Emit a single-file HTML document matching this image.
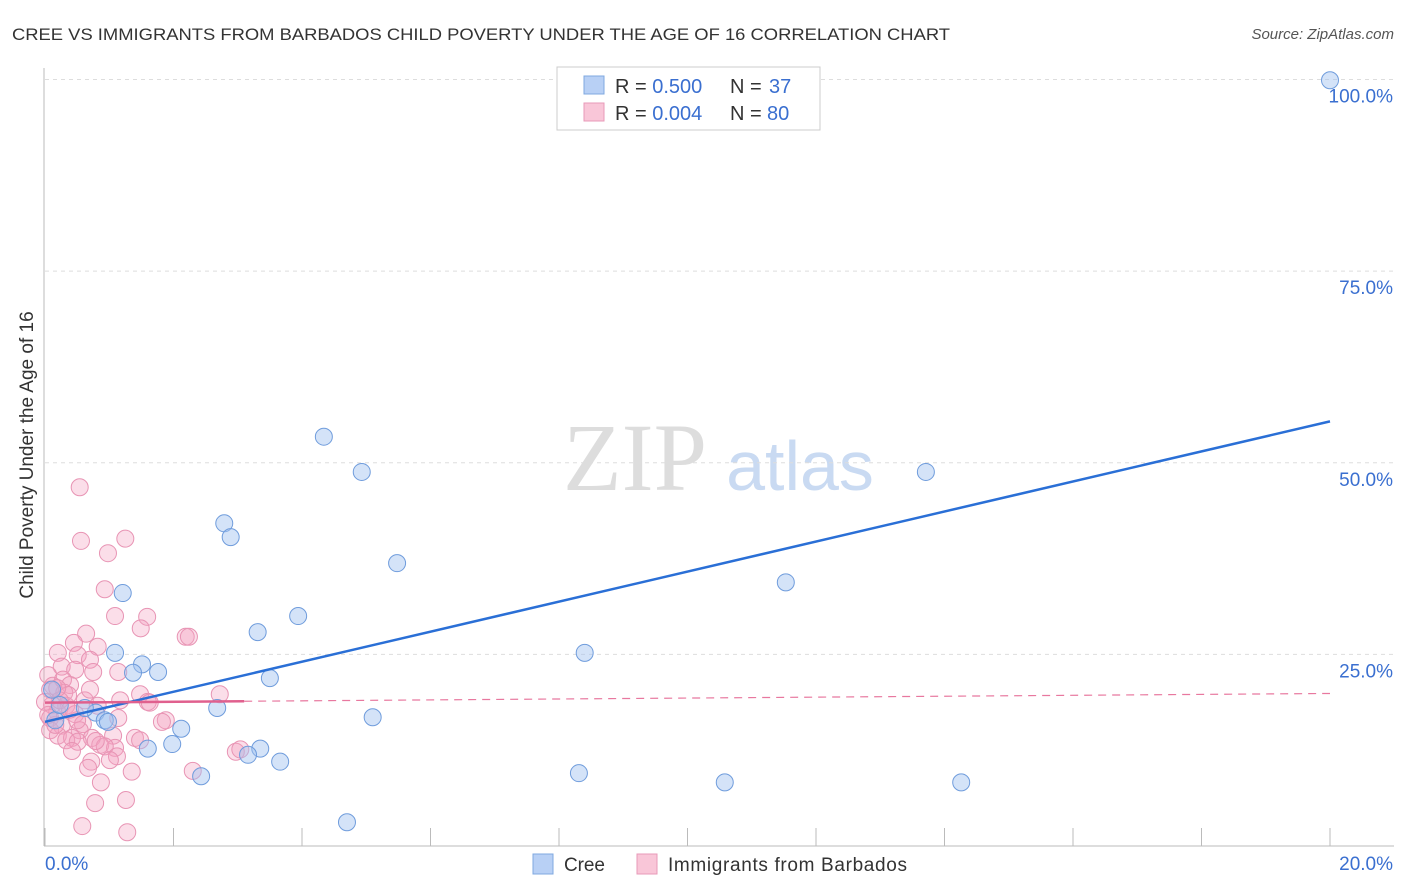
<!DOCTYPE html>
<html><head><meta charset="utf-8"><style>
body{margin:0;background:#fff;font-family:"Liberation Sans",sans-serif;}
svg{display:block}
</style></head><body>
<svg id="chart" width="1406" height="892">
<text x="12" y="40" font-size="17" fill="#333" textLength="938" lengthAdjust="spacingAndGlyphs">CREE VS IMMIGRANTS FROM BARBADOS CHILD POVERTY UNDER THE AGE OF 16 CORRELATION CHART</text>
<text x="1394" y="39" font-size="15" fill="#555" font-style="italic" text-anchor="end">Source: ZipAtlas.com</text>
<text transform="translate(33,455) rotate(-90)" font-size="19" fill="#333" text-anchor="middle">Child Poverty Under the Age of 16</text>
<g>
<text x="635" y="490" font-size="96" font-family="Liberation Serif,serif" fill="#ddd" text-anchor="middle">ZIP</text>
<text x="800" y="490" font-size="70" fill="#c9daf2" text-anchor="middle">atlas</text>
</g>
<g id="grid"></g>
<g id="pts"></g>
<g id="lines"></g>
<g>
<rect x="557" y="67" width="263" height="63" fill="#fff" stroke="#ccc"/>
<rect x="584" y="76" width="20" height="18" fill="#b8d0f5" stroke="#7fa8e0"/>
<rect x="584" y="103" width="20" height="18" fill="#f9c6d8" stroke="#e89ab8"/>
<text x="615" y="93" font-size="20" fill="#333">R = <tspan fill="#3a6fd0">0.500</tspan><tspan x="730">N = </tspan><tspan fill="#3a6fd0" x="769">37</tspan></text>
<text x="615" y="120" font-size="20" fill="#333">R = <tspan fill="#3a6fd0">0.004</tspan><tspan x="730">N = </tspan><tspan fill="#3a6fd0" x="767">80</tspan></text>
</g>
<g>
<rect x="533" y="854" width="20" height="20" fill="#b8d0f5" stroke="#7fa8e0"/>
<text x="564" y="871" font-size="19" fill="#333" textLength="41">Cree</text>
<rect x="637" y="854" width="20" height="20" fill="#f9c6d8" stroke="#e89ab8"/>
<text x="668" y="871" font-size="19" fill="#333" textLength="239">Immigrants from Barbados</text>
</g>
</svg>
<script>
const yTicks=[25,50,75,100];
const yTickLabels=["25.0%","50.0%","75.0%","100.0%"];
const xTicks=[0,2,4,6,8,10,12,14,16,18,20];
const xEdgeLabels=["0.0%","20.0%"];
const creeX=[20.0,4.34,4.93,13.71,2.79,2.89,5.48,11.53,1.21,3.94,3.31,8.40,1.09,1.51,1.76,1.37,3.50,2.68,5.10,0.79,0.62,0.93,0.98,2.12,1.98,1.60,3.35,3.16,3.66,2.43,8.31,10.58,14.26,4.70,0.11,0.16,0.23];
const creeY=[99.9,53.4,48.8,48.8,42.1,40.3,36.9,34.4,33.0,30.0,27.9,25.2,25.2,23.7,22.7,22.6,21.9,18.0,16.8,17.4,18.0,16.4,16.2,15.3,13.3,12.7,12.7,11.9,11.0,9.1,9.5,8.3,8.3,3.1,20.4,16.4,18.4];
const barbX=[0.54,0.56,1.25,0.98,0.93,1.09,1.59,1.49,2.19,2.24,0.64,0.45,0.82,0.20,0.51,0.70,0.26,0.47,0.75,1.14,0.05,0.28,0.12,0.39,0.08,0.30,1.48,2.72,0.62,1.60,1.63,0.11,0.33,0.82,0.19,0.47,0.08,1.14,1.88,0.59,0.26,0.08,0.54,0.20,0.42,0.73,1.06,1.40,0.33,0.51,0.86,1.09,0.93,0.42,1.12,2.97,0.72,0.67,1.35,2.30,0.87,0.78,1.26,0.58,1.28,0.16,0.36,0.23,0.00,0.50,1.17,1.01,0.79,0.70,1.48,1.82,0.05,0.19,0.39,3.04];
const barbY=[46.8,39.8,40.1,38.2,33.5,30.0,29.9,28.4,27.3,27.3,27.7,26.5,26.0,25.2,24.9,24.3,23.4,23.0,22.7,22.7,22.3,21.7,20.9,21.0,20.4,20.0,19.8,19.8,19.0,18.8,18.7,18.4,18.3,18.3,17.5,17.2,16.7,16.7,16.4,15.9,15.7,15.1,15.1,14.4,14.1,14.1,14.4,14.1,13.8,13.6,13.2,12.8,13.0,12.4,11.7,12.3,11.0,10.2,9.7,9.8,8.3,5.6,6.0,2.6,1.8,15.8,19.7,19.0,18.8,16.4,19.0,11.2,13.7,20.4,13.8,16.2,17.1,20.6,17.8,12.6];
const creeTrend=[16.2,55.4];
const barbTrend=[18.7,19.9];

const NS="http://www.w3.org/2000/svg";
const X=v=>45+v/20*1285;
const Y=v=>846-v*7.665;
function mk(parent,tag,attrs){const e=document.createElementNS(NS,tag);for(const k in attrs)e.setAttribute(k,attrs[k]);document.getElementById(parent).appendChild(e);return e;}
let ax=mk('grid','line',{x1:44,y1:68,x2:44,y2:846,stroke:'#bbb'});


let bx=mk('grid','line',{x1:44,y1:846,x2:1394,y2:846,stroke:'#bbb'});


yTicks.forEach((t,i)=>{
  const g=mk('grid','line',{x1:45,y1:Y(t),x2:1394,y2:Y(t),stroke:'#ddd','stroke-dasharray':'4,4'});
  
  
  const l=mk('grid','text',{x:1393,y:Y(t)+23,'font-size':19,fill:'#3a6fd0','text-anchor':'end'});
  l.textContent=yTickLabels[i];
  
  
});
xTicks.forEach(t=>{
  const k=mk('grid','line',{x1:X(t),y1:828,x2:X(t),y2:846,stroke:'#bbb'});
  
  
});
const l0=mk('grid','text',{x:45,y:870,'font-size':19,fill:'#3a6fd0'});l0.textContent=xEdgeLabels[0];


const l1=mk('grid','text',{x:1393,y:870,'font-size':19,fill:'#3a6fd0','text-anchor':'end'});l1.textContent=xEdgeLabels[1];


barbX.forEach((x,i)=>{
  const c=mk('pts','circle',{cx:X(x),cy:Y(barbY[i]),r:8.5,fill:'rgba(244,160,192,0.35)',stroke:'#e894b4','stroke-width':1});
  
  
});
creeX.forEach((x,i)=>{
  const c=mk('pts','circle',{cx:X(x),cy:Y(creeY[i]),r:8.5,fill:'rgba(160,192,240,0.45)',stroke:'#6f9cdc','stroke-width':1});
  
  
});
const cl=mk('lines','line',{x1:X(0),y1:Y(creeTrend[0]),x2:X(20),y2:Y(creeTrend[1]),stroke:'#2a6fd6','stroke-width':2.5});


const bm=barbTrend[0]+(barbTrend[1]-barbTrend[0])*3.1/20;
const ps=mk('lines','line',{x1:X(0),y1:Y(barbTrend[0]),x2:X(3.1),y2:Y(bm),stroke:'#e0608e','stroke-width':2.5});


const pd=mk('lines','line',{x1:X(3.1),y1:Y(bm),x2:X(20),y2:Y(barbTrend[1]),stroke:'#e8789f','stroke-width':1.2,'stroke-dasharray':'8,6'});


</script>
</body></html>
